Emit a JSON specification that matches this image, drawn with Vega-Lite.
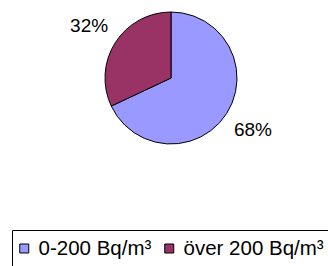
{
  "$schema": "https://vega.github.io/schema/vega-lite/v6.json",
  "width": 342,
  "height": 156,
  "padding": 0,
  "background": "white",
  "config": {
    "view": {"stroke": null},
    "font": "Liberation Sans",
    "legend": {"symbolType": "square"}
  },
  "data": {
    "values": [
      {"cat": "0-200 Bq/m³", "value": 68, "label": "68%"},
      {"cat": "över 200 Bq/m³", "value": 32, "label": "32%"}
    ]
  },
  "encoding": {
    "theta": {"field": "value", "type": "quantitative", "stack": true},
    "order": {"field": "value", "type": "quantitative", "sort": "descending"}
  },
  "layer": [
    {
      "mark": {"type": "arc", "outerRadius": 66, "stroke": "black", "strokeWidth": 1},
      "encoding": {
        "color": {
          "field": "cat",
          "type": "nominal",
          "scale": {"domain": ["0-200 Bq/m³", "över 200 Bq/m³"], "range": ["#9999FF", "#993366"]},
          "legend": {
            "orient": "none",
            "legendX": 12,
            "legendY": 230,
            "direction": "horizontal",
            "title": null,
            "padding": 5,
            "clipHeight": 27,
            "strokeColor": "black",
            "fillColor": "white",
            "symbolType": "square",
            "symbolSize": 81,
            "symbolOffset": -3,
            "symbolStrokeColor": "black",
            "symbolStrokeWidth": 1,
            "symbolOpacity": 1,
            "labelFont": "Liberation Sans",
            "labelFontSize": 20.5,
            "labelColor": "black",
            "labelOffset": 4,
            "columnPadding": 10
          }
        }
      }
    },
    {
      "mark": {"type": "text", "radius": 97, "fontSize": 19, "font": "Liberation Sans", "color": "black"},
      "encoding": {
        "text": {"field": "label", "type": "nominal"}
      }
    }
  ]
}
